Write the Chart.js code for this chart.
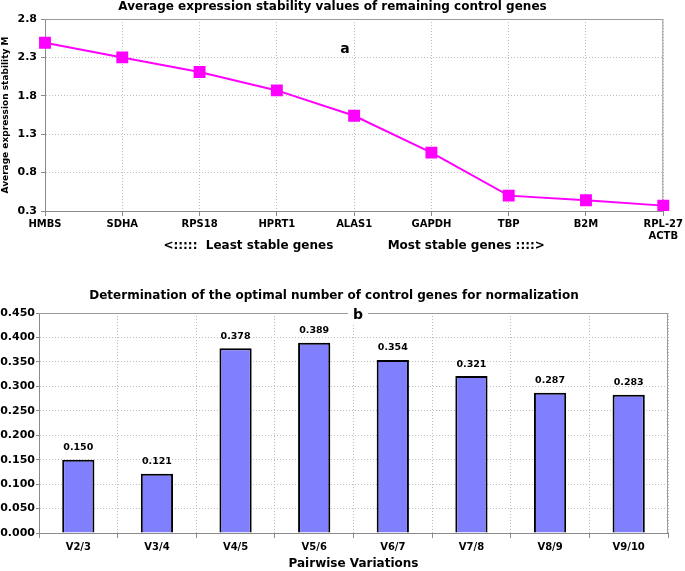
<!DOCTYPE html>
<html><head><meta charset="utf-8">
<script src="https://cdn.jsdelivr.net/npm/chart.js@4"></script>
<style>
html,body{margin:0;padding:0;background:#fff;overflow:hidden;}
#w1{position:absolute;left:0;top:0;width:685px;height:262px;}
#w2{position:absolute;left:0;top:276px;width:685px;height:295px;}
</style></head><body>
<div id="w1"><canvas id="c1"></canvas></div>
<div id="w2"><canvas id="c2"></canvas></div>
<script>
// ---- data (panel a) ----
const genes = ['HMBS','SDHA','RPS18','HPRT1','ALAS1','GAPDH','TBP','B2M',['RPL-27','ACTB']];
const stabilityM = [2.49,2.30,2.11,1.87,1.54,1.06,0.50,0.44,0.37];
const stabilityTicks = [0.3,0.8,1.3,1.8,2.3,2.8];
// ---- data (panel b) ----
const pairwise = ['V2/3','V3/4','V4/5','V5/6','V6/7','V7/8','V8/9','V9/10'];
const variation = [0.150,0.121,0.378,0.389,0.354,0.321,0.287,0.283];
const variationTicks = [0,0.05,0.1,0.15,0.2,0.25,0.3,0.35,0.4,0.45];

const FONT = "'DejaVu Sans', sans-serif";
Chart.defaults.font.family = FONT;
Chart.defaults.color = '#000';

const frame = {
  id: 'frame',
  beforeDatasetsDraw(chart) {
    const {ctx, chartArea: a} = chart;
    ctx.save();
    ctx.strokeStyle = '#9a9a9a'; ctx.lineWidth = 1;
    ctx.beginPath();
    ctx.moveTo(a.left, a.top + 0.5);
    ctx.lineTo(a.right - 0.5, a.top + 0.5);
    ctx.lineTo(a.right - 0.5, a.bottom);
    ctx.stroke();
    ctx.restore();
  }
};
const panelLabel = {
  id: 'panelLabel',
  afterDatasetsDraw(chart, args, o) {
    const {ctx, chartArea: a} = chart;
    const x = a.left + o.fx * (a.right - a.left);
    const y = a.top + o.fy * (a.bottom - a.top);
    ctx.save();
    ctx.font = o.font;
    ctx.textAlign = 'center'; ctx.textBaseline = 'middle';
    if (o.bg) {
      const w = ctx.measureText(o.text).width + 10;
      ctx.fillStyle = '#fff';
      ctx.fillRect(x - w / 2, y - 8, w, 16);
    }
    ctx.fillStyle = '#000';
    ctx.fillText(o.text, x, y);
    ctx.restore();
  }
};
const valueLabels = {
  id: 'valueLabels',
  afterDatasetsDraw(chart) {
    const {ctx} = chart;
    const meta = chart.getDatasetMeta(0);
    const ds = chart.data.datasets[0].data;
    ctx.save();
    ctx.font = 'bold 9.5px ' + FONT;
    ctx.fillStyle = '#000';
    ctx.textAlign = 'center'; ctx.textBaseline = 'middle';
    meta.data.forEach((el, i) => ctx.fillText(ds[i].toFixed(3), el.x, el.y - 12));
    ctx.restore();
  }
};

const gridStyle = {color: '#bdbdbd', lineWidth: 1, tickColor: '#8a8a8a', tickBorderDash: [], tickWidth: 1};

new Chart(document.getElementById('c1'), {
  type: 'line',
  data: {labels: genes, datasets: [{
    data: stabilityM, borderColor: '#ff00ff', backgroundColor: '#ff00ff',
    borderWidth: 2, pointStyle: 'rect', pointRadius: 7, pointHoverRadius: 7,
    pointBackgroundColor: '#ff00ff', pointBorderColor: '#ff00ff', tension: 0
  }]},
  options: {
    responsive: true, maintainAspectRatio: false, animation: false,
    events: [],
    layout: {padding: {top: 0, right: 20, left: 0, bottom: 0}},
    plugins: {
      legend: {display: false}, tooltip: {enabled: false},
      title: {display: true, text: 'Average expression stability values of remaining control genes',
        font: {size: 12, weight: 'bold'}, color: '#000', padding: {top: 0, bottom: 4.6}},
      panelLabel: {text: 'a', fx: 0.485, fy: 0.16, font: 'bold 14px ' + FONT}
    },
    scales: {
      x: {
        offset: false,
        grid: Object.assign({}, gridStyle, {tickLength: 5}),
        border: {display: true, color: '#8a8a8a', dash: [1, 2]},
        ticks: {font: {size: 10, weight: 'bold'}, maxRotation: 0, autoSkip: false, padding: 2, color: '#000'},
        title: {display: true, text: '<:::::  Least stable genes             Most stable genes ::::>',
          font: {size: 12, weight: 'bold'}, color: '#000', padding: {top: 0, bottom: 9}},
        afterFit(s) { s.height = 51; }
      },
      y: {
        min: 0.3, max: 2.8,
        afterBuildTicks(s) { s.ticks = stabilityTicks.map(v => ({value: v})); },
        grid: Object.assign({}, gridStyle, {tickLength: 4}),
        border: {display: true, color: '#8a8a8a', dash: [1, 2]},
        ticks: {font: {size: 11, weight: 'bold'}, padding: 4, color: '#000', callback: v => Number(v).toFixed(1)},
        title: {display: true, text: 'Average expression stability M', font: {size: 9, weight: 'bold'}, color: '#000', padding: 0},
        afterFit(s) { s.width = 45; }
      }
    }
  },
  plugins: [frame, panelLabel]
});

new Chart(document.getElementById('c2'), {
  type: 'bar',
  data: {labels: pairwise, datasets: [{
    data: variation, backgroundColor: '#8080ff', borderColor: '#000', borderWidth: 2,
    barPercentage: 0.41, categoryPercentage: 1
  }]},
  options: {
    responsive: true, maintainAspectRatio: false, animation: false,
    events: [],
    layout: {padding: {top: 0, right: 17, left: 0, bottom: 0}},
    plugins: {
      legend: {display: false}, tooltip: {enabled: false},
      title: {display: true, text: 'Determination of the optimal number of control genes for normalization',
        font: {size: 12, weight: 'bold'}, color: '#000', padding: {top: 12.8, bottom: 9.8}},
      panelLabel: {text: 'b', fx: 0.507, fy: 0.01, font: 'bold 14px ' + FONT, bg: true}
    },
    scales: {
      x: {
        grid: Object.assign({}, gridStyle, {tickLength: 5}),
        border: {display: true, color: '#8a8a8a', dash: [1, 2]},
        ticks: {font: {size: 10, weight: 'bold'}, maxRotation: 0, autoSkip: false, padding: 3, color: '#000'},
        title: {display: true, text: 'Pairwise Variations', font: {size: 12, weight: 'bold'}, color: '#000', padding: {top: 0, bottom: 0}},
        afterFit(s) { s.height = 38; }
      },
      y: {
        min: 0, max: 0.45,
        afterBuildTicks(s) { s.ticks = variationTicks.map(v => ({value: v})); },
        grid: Object.assign({}, gridStyle, {tickLength: 3}),
        border: {display: true, color: '#8a8a8a', dash: [1, 2]},
        ticks: {font: {size: 11, weight: 'bold'}, padding: 1, color: '#000', callback: v => Number(v).toFixed(3)},
        afterFit(s) { s.width = 39; }
      }
    }
  },
  plugins: [frame, panelLabel, valueLabels]
});
</script>
</body></html>
